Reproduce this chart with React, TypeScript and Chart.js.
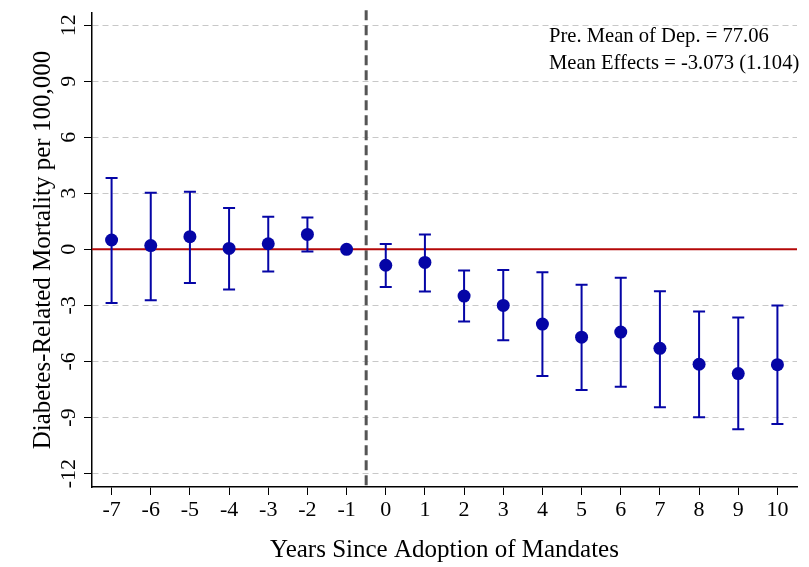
import React, { useEffect, useRef } from "react";
import { Chart, registerables } from "chart.js";

Chart.register(...registerables);

// ---- Data ----
const years = [-7, -6, -5, -4, -3, -2, -1, 0, 1, 2, 3, 4, 5, 6, 7, 8, 9, 10];
const estimates = [0.5, 0.2, 0.68, 0.05, 0.3, 0.8, 0, -0.85, -0.7, -2.5, -3.0, -4.0, -4.7, -4.43, -5.3, -6.15, -6.65, -6.17];
const upperCI = [3.82, 3.03, 3.08, 2.22, 1.75, 1.7, 0, 0.28, 0.8, -1.13, -1.1, -1.22, -1.9, -1.52, -2.24, -3.32, -3.65, -3.0];
const lowerCI = [-2.87, -2.72, -1.8, -2.15, -1.18, -0.12, 0, -2.02, -2.26, -3.86, -4.87, -6.78, -7.53, -7.35, -8.45, -8.98, -9.63, -9.35];
const yTicks = [-12, -9, -6, -3, 0, 3, 6, 9, 12];
const xTicks = years;
const notes = ["Pre. Mean of Dep. = 77.06", "Mean Effects = -3.073 (1.104)"];
const treatmentLine = -0.5;
const xTitle = "Years Since Adoption of Mandates";
const yTitle = "Diabetes-Related Mortality per 100,000";

const SERIF = "'Liberation Serif', 'Times New Roman', serif";
const BLUE = "#0505a6";

const overlayPlugin = {
  id: "overlay",
  beforeDatasetsDraw(chart: any) {
    const { ctx, chartArea: a, scales } = chart;
    const x = scales.x;
    const y = scales.y;
    ctx.save();
    // vertical dashed treatment line
    const xv = x.getPixelForValue(treatmentLine);
    ctx.strokeStyle = "#555555";
    ctx.lineWidth = 3;
    ctx.setLineDash([10, 5]);
    ctx.beginPath();
    ctx.moveTo(xv, a.top - 3);
    ctx.lineTo(xv, a.bottom);
    ctx.stroke();
    ctx.setLineDash([]);
    // zero line
    const y0 = y.getPixelForValue(0);
    ctx.strokeStyle = "#b40808";
    ctx.lineWidth = 2;
    ctx.beginPath();
    ctx.moveTo(a.left, y0);
    ctx.lineTo(a.right, y0);
    ctx.stroke();
    // error bars
    ctx.strokeStyle = BLUE;
    ctx.lineWidth = 2;
    const cap = 6;
    for (let i = 0; i < years.length; i++) {
      if (upperCI[i] === lowerCI[i]) continue;
      const px = x.getPixelForValue(years[i]);
      const pu = y.getPixelForValue(upperCI[i]);
      const pl = y.getPixelForValue(lowerCI[i]);
      ctx.beginPath();
      ctx.moveTo(px, pu);
      ctx.lineTo(px, pl);
      ctx.moveTo(px - cap, pu);
      ctx.lineTo(px + cap, pu);
      ctx.moveTo(px - cap, pl);
      ctx.lineTo(px + cap, pl);
      ctx.stroke();
    }
    ctx.restore();
  },
  afterDraw(chart: any) {
    const { ctx } = chart;
    ctx.save();
    ctx.fillStyle = "#000";
    ctx.font = `20.6px ${SERIF}`;
    ctx.textAlign = "left";
    ctx.textBaseline = "middle";
    notes.forEach((t, i) => ctx.fillText(t, 549, 37 + i * 27));
    ctx.restore();
  },
};

export default function App() {
  const ref = useRef<HTMLCanvasElement | null>(null);
  useEffect(() => {
    document.body.style.margin = "0";
    if (!ref.current) return;
    const chart = new Chart(ref.current, {
      type: "scatter",
      data: {
        datasets: [
          {
            data: years.map((yr, i) => ({ x: yr, y: estimates[i] })),
            backgroundColor: BLUE,
            borderColor: BLUE,
            pointRadius: 6.5,
            pointBorderWidth: 0,
            showLine: false,
          },
        ],
      },
      options: {
        responsive: false,
        animation: false,
        layout: { padding: { top: 8, right: 12, left: 0, bottom: 0 } },
        plugins: { legend: { display: false }, tooltip: { enabled: false } },
        scales: {
          x: {
            type: "linear",
            min: -7.5,
            max: 10.5,
            afterBuildTicks: (s: any) => {
              s.ticks = xTicks.map((v) => ({ value: v }));
            },
            afterFit: (s: any) => {
              s.height = 80;
            },
            grid: {
              drawOnChartArea: false,
              drawTicks: true,
              tickLength: 8,
              tickColor: "#000",
              tickWidth: 1,
            },
            border: { display: true, color: "#000", width: 1.5 },
            ticks: {
              autoSkip: false,
              maxRotation: 0,
              minRotation: 0,
              padding: 2,
              color: "#000",
              font: { family: SERIF, size: 22 },
              callback: (v: any) => String(v),
            },
            title: {
              display: true,
              text: xTitle,
              color: "#000",
              font: { family: SERIF, size: 25 },
              padding: { top: 0, bottom: 2 },
            },
          },
          y: {
            type: "linear",
            min: -12.72,
            max: 12.64,
            afterBuildTicks: (s: any) => {
              s.ticks = yTicks.map((v) => ({ value: v }));
            },
            afterFit: (s: any) => {
              s.width = 92;
            },
            grid: {
              color: "#c8c8c8",
              lineWidth: 1,
              drawTicks: true,
              tickLength: 8,
              tickColor: "#000",
              tickWidth: 1,
              tickBorderDash: [],
            },
            border: { display: true, color: "#000", width: 1.5, dash: [6, 4] },
            ticks: {
              minRotation: 90,
              maxRotation: 90,
              crossAlign: "center",
              padding: 0,
              color: "#000",
              font: { family: SERIF, size: 22 },
              callback: (v: any) => String(v),
            },
            title: {
              display: true,
              text: yTitle,
              color: "#000",
              font: { family: SERIF, size: 25 },
              padding: { top: 28, bottom: 0 },
            },
          },
        },
      },
      plugins: [overlayPlugin],
    } as any);
    return () => chart.destroy();
  }, []);
  return (
    <div style={{ position: "absolute", left: 0, top: 0, width: 809, height: 567 }}>
      <canvas ref={ref} width={809} height={567} style={{ width: 809, height: 567, display: "block" }} />
    </div>
  );
}
